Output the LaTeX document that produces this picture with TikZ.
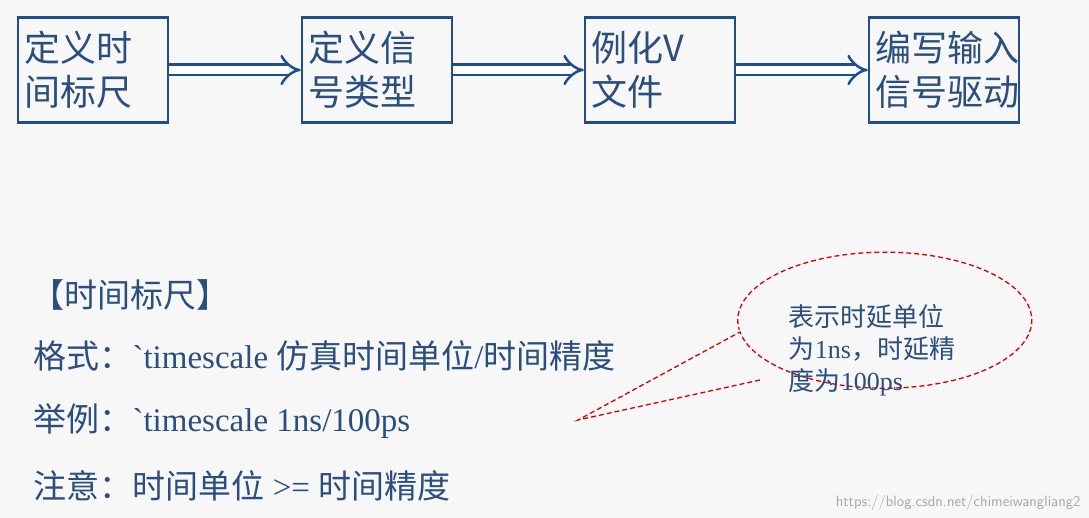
\documentclass[tikz,border=0pt]{standalone}
\usepackage{fontspec}
\setmainfont{Liberation Serif}
\newfontfamily\cjk{Noto Sans CJK SC}
\usetikzlibrary{positioning,arrows.meta}
\definecolor{boxblue}{HTML}{1F4E8C}
\definecolor{txtblue}{HTML}{2A4F7E}
\begin{document}
\begin{tikzpicture}[x=1pt,y=-1pt,
    stepbox/.style={draw=boxblue, line width=2.5pt, minimum width=150pt, minimum height=105pt,
      align=left, text width=138pt, font=\cjk\fontsize{36}{44}\selectfont, text=txtblue},
    flow/.style={boxblue, line width=2.5pt, double=white, double distance=8pt, -{Implies[length=14pt]}},
    line/.style={anchor=west, text=txtblue, font=\fontsize{33}{36}\selectfont}
    ]
    \fill[gray!6] (0,0) rectangle (1089,518);
    \useasboundingbox (0,0) rectangle (1089,518);
    \node[stepbox] (time) at (93,70) {定义时\\间标尺};
    \node[stepbox] (sig) at (377,70) {定义信\\号类型};
    \node[stepbox] (inst) at (660,70) {例化V\\文件};
    \node[stepbox] (drv) at (944,70) {编写输入\\信号驱动};
    \draw[flow] (time) -- (sig);
    \draw[flow] (sig) -- (inst);
    \draw[flow] (inst) -- (drv);
    % text lines
    \node[line] (title) at (28,295) {\cjk【时间标尺】};
    \node[line] (fmt) at (30,356) {{\cjk 格式：}\textasciigrave timescale {\cjk 仿真时间单位}/{\cjk 时间精度}};
    \node[line] (ex) at (30,421) {{\cjk 举例：}\textasciigrave timescale 1ns/100ps};
    \node[line] (note) at (30,486) {{\cjk 注意：时间单位} >= {\cjk 时间精度}};
    % callout
    \coordinate (tip) at (578,420);
    \draw[red!85!black, dash pattern=on 5pt off 3pt, line width=1.3pt]
      (760,380) -- (tip) -- (740,332)
      arc[start angle=-170, end angle=188, x radius=147pt, y radius=68pt];
    \node[align=left, text=txtblue, font=\fontsize{26}{32}\selectfont] (call) at (872,350)
      {{\cjk 表示时延单位}\\{\cjk 为}1ns{\cjk ，时延精}\\{\cjk 度为}100ps};
    \node[anchor=south east, text=gray!70, font=\sffamily\fontsize{15}{16}\selectfont] (wm) at (1084,514)
      {https://blog.csdn.net/chimeiwangliang2};
\end{tikzpicture}
\end{document}
